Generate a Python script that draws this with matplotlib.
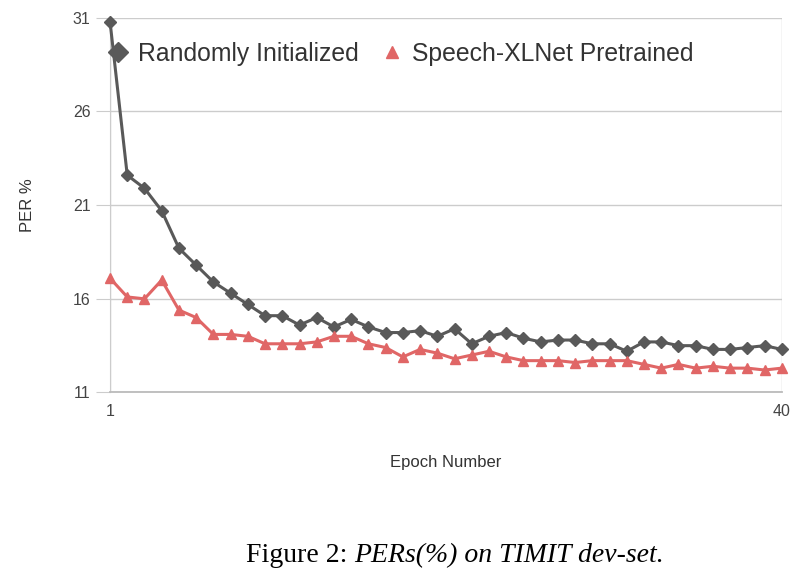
import matplotlib.pyplot as plt
import numpy as np

# PER (%) per epoch on TIMIT dev-set
epochs = list(range(1, 41))
per_random = [30.8, 22.6, 21.9, 20.7, 18.7, 17.8, 16.9, 16.3, 15.7, 15.1,
              15.1, 14.6, 15.0, 14.5, 14.9, 14.5, 14.2, 14.2, 14.3, 14.0,
              14.4, 13.6, 14.0, 14.2, 13.9, 13.7, 13.8, 13.8, 13.6, 13.6,
              13.2, 13.7, 13.7, 13.5, 13.5, 13.3, 13.3, 13.4, 13.5, 13.3]
per_pretrained = [17.1, 16.1, 16.0, 17.0, 15.4, 15.0, 14.1, 14.1, 14.0, 13.6,
                  13.6, 13.6, 13.7, 14.0, 14.0, 13.6, 13.4, 12.9, 13.3, 13.1,
                  12.8, 13.0, 13.2, 12.9, 12.7, 12.7, 12.7, 12.6, 12.7, 12.7,
                  12.7, 12.5, 12.3, 12.5, 12.3, 12.4, 12.3, 12.3, 12.2, 12.3]
yticks = [11, 16, 21, 26, 31]
xticks = [1, 40]

plt.rcParams['font.family'] = ['Liberation Sans', 'DejaVu Sans']

fig = plt.figure(figsize=(8.06, 5.75), dpi=100)
ax = fig.add_axes([0.1365, 0.3174, 0.8335, 0.6516])

ax.plot(epochs, per_random, color='#595959', lw=2.2, marker='D', ms=6.5,
        label='Randomly Initialized', zorder=3, clip_on=False)
ax.plot(epochs, per_pretrained, color='#e06666', lw=2.2, marker='^', ms=7,
        label='Speech-XLNet Pretrained', zorder=3, clip_on=False)

ax.set_xlim(1, 40)
ax.set_ylim(11, 31)
ax.set_yticks(yticks)
ax.set_xticks(xticks)
ax.grid(True, color='#cccccc', lw=1)
ax.set_axisbelow(True)
for s in ['top', 'right']:
    ax.spines[s].set_visible(False)
ax.spines['left'].set_color('#cccccc')
ax.spines['bottom'].set_color('#bbbbbb')
ax.spines['bottom'].set_linewidth(1.3)
ax.tick_params(axis='y', length=10, color='#cccccc', labelsize=11.5,
               labelcolor='#444444', pad=4)
ax.tick_params(axis='x', length=0, labelsize=11.5, labelcolor='#444444', pad=8)

ax.set_xlabel('Epoch Number', fontsize=12, color='#333333', labelpad=26)
ax.set_ylabel('PER %', fontsize=12, color='#333333', labelpad=27)

leg = ax.legend(loc='upper left', bbox_to_anchor=(-0.015, 0.962), ncol=2,
                frameon=False, fontsize=17.8, handlelength=0.7,
                handletextpad=0.45, columnspacing=1.0, markerscale=1.6,
                borderaxespad=0, labelcolor='#333333')
for h in leg.get_lines():
    h.set_linestyle('none')
leg.get_lines()[1].set_markersize(9)

# caption with an upright label and an italic body
t1 = fig.text(246 / 806, 1 - 562 / 575, 'Figure 2: ', family='Liberation Serif',
              fontsize=20, ha='left', va='baseline')
ax.annotate('PERs(%) on TIMIT dev-set.', xy=(1, 0), xycoords=t1,
            family='Liberation Serif', style='italic', fontsize=20,
            ha='left', va='bottom')

fig.savefig('out.png', dpi=100)
